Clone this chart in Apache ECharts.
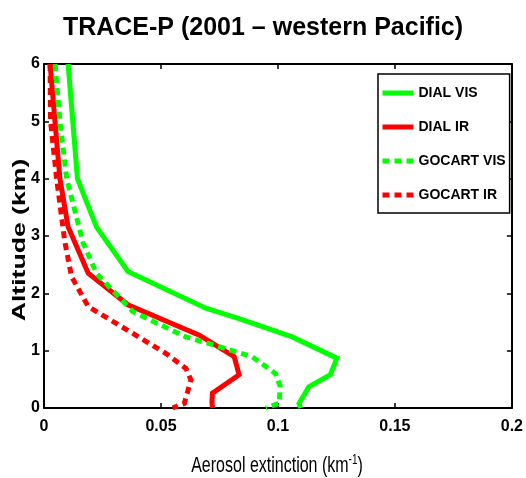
<!DOCTYPE html>
<html>
<head>
<meta charset="utf-8">
<script src="https://cdn.jsdelivr.net/npm/echarts@6/dist/echarts.min.js"></script>
<style>html,body{margin:0;padding:0;background:#fff;}#c{width:526px;height:478px;}</style>
</head>
<body>
<div id="c"></div>
<script>
// ---- data ----
var titleText = 'TRACE-P (2001 – western Pacific)';
var seriesNames = ['DIAL VIS', 'DIAL IR', 'GOCART VIS', 'GOCART IR'];
var xTicks = [0, 0.05, 0.1, 0.15, 0.2];
var yTicks = [0, 1, 2, 3, 4, 5, 6];

var dialVisX = [0.0103, 0.0143, 0.0224, 0.0359, 0.0692, 0.0834, 0.1061, 0.1252, 0.1224, 0.1132, 0.1090, 0.1097];
var dialVisY = [6, 4.0, 3.16, 2.38, 1.74, 1.56, 1.24, 0.87, 0.58, 0.37, 0.08, 0];

var dialIrX = [0.0026, 0.0047, 0.0068, 0.0103, 0.0189, 0.0359, 0.0664, 0.0813, 0.0834, 0.0720, 0.0718, 0.0720];
var dialIrY = [6, 5, 4, 3.16, 2.35, 1.80, 1.27, 0.895, 0.58, 0.26, 0.10, 0];

var gocartVisX = [0.0047, 0.0068, 0.0097, 0.0167, 0.0224, 0.0380, 0.0607, 0.0749, 0.0890, 0.0990, 0.1010, 0.1005, 0.0948];
var gocartVisY = [6, 5, 4, 2.88, 2.35, 1.68, 1.24, 1.07, 0.895, 0.60, 0.37, 0.08, 0];

var gocartIrX = [0.0026, 0.0028, 0.0054, 0.0089, 0.0118, 0.0189, 0.0380, 0.0522, 0.0607, 0.0628, 0.0600, 0.0550];
var gocartIrY = [6, 5, 4, 2.9, 2.29, 1.77, 1.30, 0.95, 0.69, 0.49, 0.08, 0];

function pairs(xs, ys) { return xs.map(function (v, i) { return [v, ys[i]]; }); }

var SANS = '"Liberation Sans", Arial, sans-serif';
var GREEN = '#00ff00', RED = '#ff0000';

function mkSeries(name, xs, ys, color, dashed) {
  return {
    name: name, type: 'line', data: pairs(xs, ys), symbol: 'none', showSymbol: false,
    itemStyle: { color: color },
    lineStyle: { color: color, width: 5, type: dashed ? [7, 5] : 'solid', cap: 'butt', join: 'miter' },
    emphasis: { disabled: true }
  };
}

function axLine() { return { show: true, onZero: false, lineStyle: { color: '#000', width: 2 } }; }
function axTick() { return { show: true, inside: true, length: 5, lineStyle: { color: '#000', width: 1.5 } }; }
function axLabel(extra) {
  var o = { fontFamily: SANS, fontWeight: 'bold', fontSize: 16, color: '#000' };
  for (var k in extra) o[k] = extra[k];
  return o;
}

var chart = echarts.init(document.getElementById('c'), null, { renderer: 'canvas' });
chart.setOption({
  animation: false,
  backgroundColor: '#fff',
  title: { text: titleText, left: 'center', top: 11,
    textStyle: { fontFamily: SANS, fontWeight: 'bold', fontSize: 25, color: '#000' } },
  grid: { left: 44, right: 12, top: 64, bottom: 70 },
  xAxis: [
    { type: 'value', position: 'bottom', min: xTicks[0], max: xTicks[xTicks.length - 1], interval: xTicks[1] - xTicks[0],
      axisLine: axLine(), axisTick: axTick(), splitLine: { show: false },
      axisLabel: axLabel({ margin: 11, formatter: function (v) { return String(+v.toFixed(2)); } }) },
    { type: 'value', position: 'top', min: xTicks[0], max: xTicks[xTicks.length - 1], interval: xTicks[1] - xTicks[0],
      axisLine: axLine(), axisTick: axTick(), splitLine: { show: false }, axisLabel: { show: false } }
  ],
  yAxis: [
    { type: 'value', position: 'left', min: yTicks[0], max: yTicks[yTicks.length - 1], interval: 1,
      axisLine: axLine(), axisTick: axTick(), splitLine: { show: false },
      axisLabel: axLabel({ margin: 4 }) },
    { type: 'value', position: 'right', min: yTicks[0], max: yTicks[yTicks.length - 1], interval: 1,
      axisLine: axLine(), axisTick: axTick(), splitLine: { show: false }, axisLabel: { show: false } }
  ],
  legend: {
    data: seriesNames, orient: 'vertical', left: 378, top: 74,
    backgroundColor: '#fff', borderColor: '#000', borderWidth: 1.5, borderRadius: 0,
    padding: [12, 4, 11, 2], itemWidth: 31, itemHeight: 14, itemGap: 20,
    itemStyle: { opacity: 0 },
    lineStyle: { width: 5 },
    textStyle: { fontFamily: SANS, fontWeight: 'bold', fontSize: 14, lineHeight: 14, color: '#000', padding: [0, 0, 0, 0] }
  },
  graphic: [
    { type: 'text', x: 20, y: 240, rotation: Math.PI / 2, scaleX: 1.4,
      style: { text: 'Altitude (km)', font: 'bold 19px ' + SANS, fill: '#000', align: 'center', verticalAlign: 'middle' } },
    { type: 'text', x: 277, y: 465, scaleY: 1.4,
      style: { text: '{a|Aerosol extinction (km}{s|-1}{a|)}', align: 'center', verticalAlign: 'middle', fill: '#000',
        rich: { a: { fontFamily: SANS, fontSize: 16, fill: '#000', verticalAlign: 'bottom' },
                s: { fontFamily: SANS, fontSize: 10, fill: '#000', verticalAlign: 'bottom', padding: [0, 0, 7, 0] } } } }
  ],
  series: [
    mkSeries(seriesNames[0], dialVisX, dialVisY, GREEN, false),
    mkSeries(seriesNames[1], dialIrX, dialIrY, RED, false),
    mkSeries(seriesNames[2], gocartVisX, gocartVisY, GREEN, true),
    mkSeries(seriesNames[3], gocartIrX, gocartIrY, RED, true)
  ]
});
</script>
</body>
</html>
